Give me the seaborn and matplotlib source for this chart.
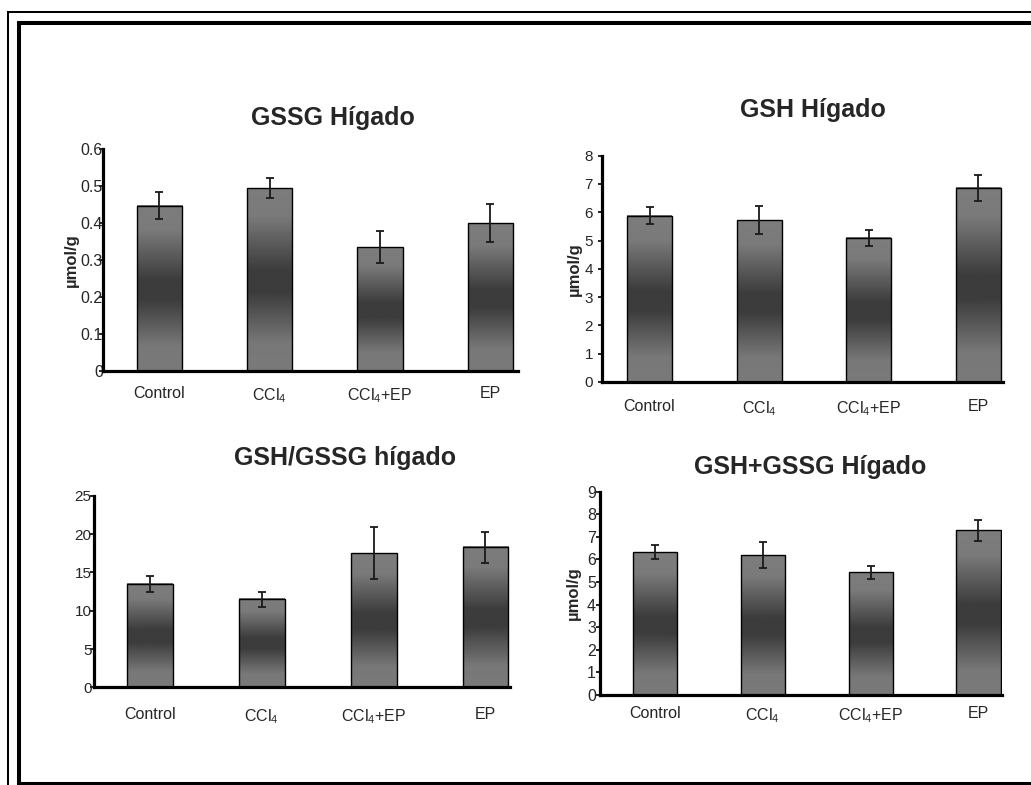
"""
plot.py - Four panel bar chart of liver glutathione (GSSG, GSH, ratio, total).
"""

import numpy as np
import matplotlib
matplotlib.use("Agg")
import matplotlib.pyplot as plt
from matplotlib.colors import LinearSegmentedColormap
from matplotlib.lines import Line2D
from matplotlib.ticker import FuncFormatter
import seaborn as sns

#####################################
# Data
#####################################

groups = ["Control", "CCl$_4$", "CCl$_4$+EP", "EP"]

gssg_mean = [0.447, 0.494, 0.335, 0.400]
gssg_err = [0.036, 0.027, 0.044, 0.052]

gsh_mean = [5.88, 5.72, 5.10, 6.86]
gsh_err = [0.31, 0.50, 0.28, 0.47]

ratio_mean = [13.5, 11.5, 17.5, 18.3]
ratio_err = [1.1, 0.95, 3.4, 2.0]

total_mean = [6.31, 6.19, 5.43, 7.29]
total_err = [0.31, 0.57, 0.29, 0.45]

#####################################
# Style
#####################################

sns.set_theme(style="white")
plt.rcParams["font.family"] = ["Liberation Sans", "DejaVu Sans"]
plt.rcParams["mathtext.fontset"] = "custom"
plt.rcParams["mathtext.rm"] = "Liberation Sans"
plt.rcParams["mathtext.it"] = "Liberation Sans:italic"
plt.rcParams["mathtext.bf"] = "Liberation Sans:bold"

# light at top and bottom, dark band in the middle
bar_cmap = LinearSegmentedColormap.from_list(
    "band",
    [(0.0, "#7d7d7d"), (0.15, "#7a7a7a"), (0.45, "#3c3c3c"),
     (0.57, "#3c3c3c"), (0.85, "#787878"), (1.0, "#7a7a7a")],
)


def draw_panel(ax, means, errs, title, ymax, ystep, xlim, title_xy,
               ylabel=None, ylabel_x=None, ypad=0.0, ysize=11.5, xpad=8):
    """Bars with a vertical gradient fill, error bars and Excel-like axes."""
    sns.barplot(x=groups, y=means, ax=ax, width=0.41, color="gray",
                edgecolor="black", linewidth=1.0, errorbar=None)

    grad = np.linspace(0, 1, 256).reshape(-1, 1)
    for patch in ax.patches:
        x0, y0 = patch.get_x(), patch.get_y()
        w, h = patch.get_width(), patch.get_height()
        ax.imshow(grad, cmap=bar_cmap, extent=[x0, x0 + w, y0, y0 + h],
                  aspect="auto", zorder=2, interpolation="bilinear")
        patch.set_facecolor("none")
        patch.set_zorder(3)

    ax.errorbar(range(len(means)), means, yerr=errs, fmt="none",
                ecolor="#1a1a1a", elinewidth=1.3, capsize=2.6,
                capthick=1.3, zorder=4)

    ax.set_xlim(*xlim)
    ax.set_ylim(0, ymax)
    ax.set_yticks(np.arange(0, ymax + ystep / 2, ystep))
    ax.yaxis.set_major_formatter(FuncFormatter(lambda v, _: f"{v:g}"))

    for side in ["top", "right"]:
        ax.spines[side].set_visible(False)
    for side in ["left", "bottom"]:
        ax.spines[side].set_linewidth(2.3)
        ax.spines[side].set_color("black")

    ax.tick_params(axis="y", direction="out", length=3, width=1.2,
                   color="black", pad=ypad, labelsize=ysize, left=True)
    ax.tick_params(axis="x", length=0, pad=xpad, labelsize=11.5)
    ax.set_xlabel("")

    if ylabel:
        ax.set_ylabel(ylabel, fontsize=12, fontweight="bold", va="center")
        ax.yaxis.set_label_coords(ylabel_x, 0.5)
    else:
        ax.set_ylabel("")

    ax.text(title_xy[0], title_xy[1], title, transform=ax.transAxes,
            ha="center", va="center", fontsize=18, fontweight="bold")


#####################################
# Figure
#####################################

fig = plt.figure(figsize=(10.31, 7.85), dpi=100)

ax1 = fig.add_axes([0.0999, 0.5274, 0.4025, 0.2828])
ax2 = fig.add_axes([0.5839, 0.5134, 0.3890, 0.2883])
ax3 = fig.add_axes([0.0912, 0.1245, 0.4035, 0.2437])
ax4 = fig.add_axes([0.5820, 0.1146, 0.3900, 0.2590])

draw_panel(ax1, gssg_mean, gssg_err, "GSSG Hígado", 0.6, 0.1,
           (-0.512, 3.25), (0.554, 1.14), "µmol/g", -0.077, ypad=-3.0,
           xpad=11)
draw_panel(ax2, gsh_mean, gsh_err, "GSH Hígado", 8, 1,
           (-0.434, 3.228), (0.526, 1.203), "µmol/g", -0.069, ypad=3.5,
           ysize=11, xpad=12.3)
draw_panel(ax3, ratio_mean, ratio_err, "GSH/GSSG hígado", 25, 5,
           (-0.50, 3.22), (0.603, 1.199), ypad=-1.2, ysize=11, xpad=14.5)
draw_panel(ax4, total_mean, total_err, "GSH+GSSG Hígado", 9, 1,
           (-0.51, 3.22), (0.522, 1.123), "µmol/g", -0.066, ypad=0.0,
           xpad=8)

# double frame around the figure (cut off on the right)
W, H = 1031.0, 785.0


def frame_line(x_px, y_px, lw):
    fig.add_artist(Line2D([x / W for x in x_px], [1 - y / H for y in y_px],
                          transform=fig.transFigure, color="black", lw=lw,
                          solid_capstyle="projecting"))


frame_line([8.3, 8.3], [11.8, 800], 1.45)
frame_line([8.3, 1100], [11.8, 11.8], 1.45)
frame_line([18.7, 18.7], [23.0, 783.5], 2.9)
frame_line([18.7, 1100], [23.0, 23.0], 2.9)
frame_line([18.7, 1100], [783.5, 783.5], 2.9)

fig.savefig("out.png", dpi=100)
